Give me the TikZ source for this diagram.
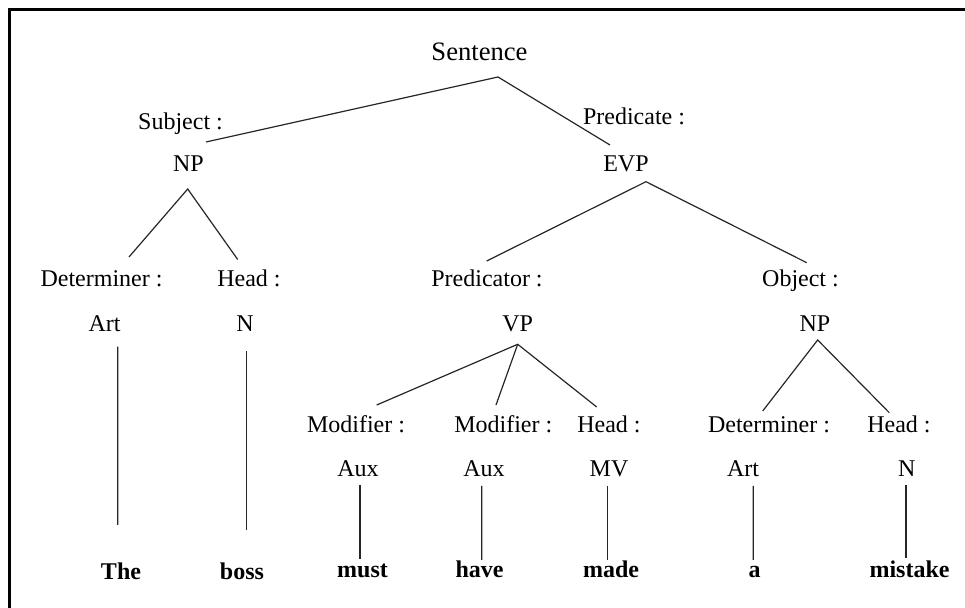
\documentclass[tikz,border=0pt]{standalone}
\usepackage{fontspec}
\setmainfont{Liberation Serif}
\usetikzlibrary{calc}
\begin{document}
\begin{tikzpicture}[x=0.5pt,y=-0.5pt,
  lbl/.style={inner sep=0pt, anchor=base, font=\fontsize{12}{14}\selectfont},
  word/.style={inner sep=0pt, anchor=base, font=\fontsize{12}{14}\selectfont\bfseries},
  toplbl/.style={inner sep=0pt, anchor=base, font=\fontsize{13.3}{16}\selectfont},
  link/.style={draw=black!85, line width=0.6pt},
  frame/.style={draw=black, line width=1.5pt}]
\useasboundingbox (0,0) rectangle (965,608);
\draw[frame] (965,10) -- (9.7,10) -- (9.7,608);

% labels
\node[toplbl] (sent) at (479.5,61) {Sentence};
\node[lbl] (subj) at (180.5,130) {Subject :};
\node[lbl] (np1) at (188.5,172) {NP};
\node[lbl] (pred) at (634,125) {Predicate :};
\node[lbl] (evp) at (626,172) {EVP};
\node[lbl] (det1) at (101.5,287) {Determiner :};
\node[lbl] (head1) at (249,287) {Head :};
\node[lbl] (predr) at (487,287) {Predicator :};
\node[lbl] (obj) at (800.5,287) {Object :};
\node[lbl] (art1) at (104.5,332) {Art};
\node[lbl] (n1) at (245,332) {N};
\node[lbl] (vp) at (517.7,332) {VP};
\node[lbl] (np2) at (815,332) {NP};
\node[lbl] (mod1) at (356,433) {Modifier :};
\node[lbl] (mod2) at (503.3,433) {Modifier :};
\node[lbl] (head2) at (609,433) {Head :};
\node[lbl] (det2) at (769,433) {Determiner :};
\node[lbl] (head3) at (899,433) {Head :};
\node[lbl] (aux1) at (358,477) {Aux};
\node[lbl] (aux2) at (484,477) {Aux};
\node[lbl] (mv) at (609,477) {MV};
\node[lbl] (art2) at (743,477) {Art};
\node[lbl] (n2) at (906.7,477) {N};
\node[word] (the) at (121,580) {The};
\node[word] (boss) at (242,580) {boss};
\node[word] (must) at (362.5,578) {must};
\node[word] (have) at (479.5,578) {have};
\node[word] (made) at (611,578) {made};
\node[word] (a) at (754.5,578) {a};
\node[word] (mistake) at (909.5,578) {mistake};

% connectors
\draw[link] ($(subj.base)+(25.5,12)$) -- ($(sent.base)+(18.5,16)$) -- ($(pred.base)+(-24,20)$);
\draw[link] ($(det1.base)+(27.5,-30)$) -- ($(np1.base)+(-0.8,17)$) -- ($(head1.base)+(-11.3,-27.5)$);
\draw[link] ($(predr.base)+(-0.3,-26)$) -- ($(evp.base)+(20,9.7)$) -- ($(obj.base)+(6.2,-24.3)$);
\draw[link] ($(mod1.base)+(20.7,-28)$) -- ($(vp.base)+(0,12.3)$) -- ($(head2.base)+(-12.3,-26)$);
\draw[link] ($(vp.base)+(0,12.3)$) -- ($(mod2.base)+(-7.3,-28)$);
\draw[link] ($(det2.base)+(-6.3,-22)$) -- ($(np2.base)+(2.7,8)$) -- ($(head3.base)+(-9.7,-20.3)$);
\draw[link] ($(art1.base)+(13.2,14.7)$) -- ($(the.base)+(-3.3,-55)$);
\draw[link] ($(n1.base)+(1.7,19)$) -- ($(boss.base)+(4.7,-50)$);
\draw[link] ($(aux1.base)+(2,8)$) -- ($(must.base)+(-2.5,-18.7)$);
\draw[link] ($(aux2.base)+(-2.3,9)$) -- ($(have.base)+(2.2,-18)$);
\draw[link] ($(mv.base)+(-1.7,9)$) -- ($(made.base)+(-3.7,-18)$);
\draw[link] ($(art2.base)+(10.3,9)$) -- ($(a.base)+(-1.2,-18)$);
\draw[link] ($(n2.base)+(-0.7,8)$) -- ($(mistake.base)+(-3.5,-20)$);
\end{tikzpicture}
\end{document}
